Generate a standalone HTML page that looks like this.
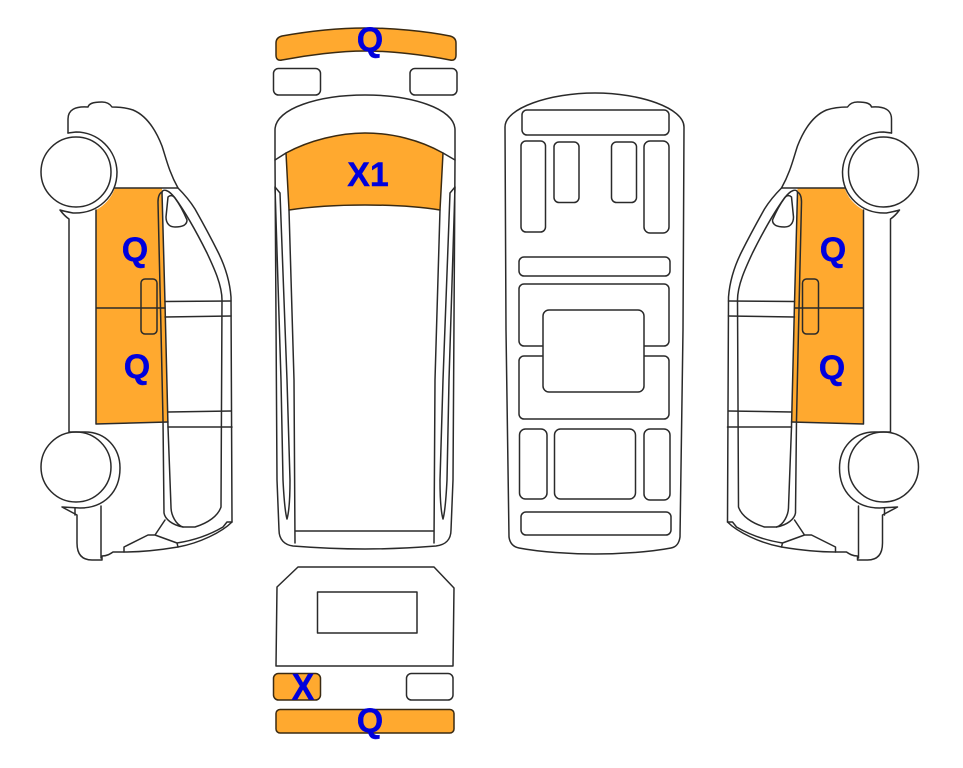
<!DOCTYPE html>
<html>
<head>
<meta charset="utf-8">
<style>
html,body{margin:0;padding:0;background:#fff;}
svg{display:block;}
.l{fill:none;stroke:#2a2a2a;stroke-width:1.5;stroke-linejoin:round;stroke-linecap:round;}
.w{fill:#fff;stroke:#2a2a2a;stroke-width:1.5;stroke-linejoin:round;}
.o{fill:#ffa92f;stroke:#3a2a12;stroke-width:1.5;stroke-linejoin:round;}
text{font-family:"Liberation Sans",Arial,sans-serif;font-weight:bold;font-size:34px;fill:#0000dd;stroke:#0000dd;stroke-width:.4;text-anchor:middle;}
</style>
</head>
<body>
<svg width="963" height="768" viewBox="0 0 963 768" xmlns="http://www.w3.org/2000/svg">
<defs>
<g id="van">
  <!-- orange doors -->
  <path d="M96,424 L96,210 A41,41 0 0 0 115,188 L162,188 L165,303 L168,422 Z" fill="#ffa92f" stroke="none"/>
  <path class="l" d="M96,210 L96,424 L168,422 M96,308 L165,308"/>
  <!-- body upper -->
  <path class="l" d="M68,133 L68,119 C68,110 75,106 88,107 C89,104 92,102 102,102 C107,102 110,104 112,107 C120,107 127,108 133,110 C145,115 155,128 162,146 C166,158 169,172 178,188 L115,188"/>
  <!-- arches -->
  <path class="l" d="M68,133 L76,132 A41,41 0 0 1 117,172 C117,196 98,214 73,213 C68,212 63,211 60,210 C63,214 66,217 69,219 L69,432 L85,432 C106,432 120,448 120,468 C120,492 104,508 80,508 L62,507 L77,515 L77,543 C77,553 81,560 92,560 L102,560 L102,556 C107,556 110,554 113,552 L124,552 C140,552 160,550 178,547 C200,543 222,532 232,522 L231,297 C230,284 226,268 218,252 C212,240 204,225 195,209 C190,201 184,194 178,188"/>
  <path class="l" d="M75,508 L75,515 M101,506 L101,558"/>
  <circle class="l" cx="76" cy="172" r="35"/>
  <circle class="l" cx="76" cy="467" r="35"/>
  <!-- door frame -->
  <path class="l" d="M162,192 C160,193 158,196 158,202 L161,330 L163,420 L164,513 C165,519 172,525 183,527"/>
  <path class="l" d="M162,192 C163,189 168,189 175,198 C186,213 198,235 207,253 C214,268 222,285 222,300 L221,507 C218,516 208,523 195,527 L183,527 C176,525 171,515 171,507 L168,427 L165,303 L162,192"/>
  <path class="l" d="M165,301.5 L231,301 M165,317 L231,316 M168,412 L231,411 M168,427 L232,427"/>
  <path class="l" d="M168,197 C170,195 173,195 175,198 C180,205 184,213 187,220 C187,225 182,227 175,227 C170,227 166,224 166,217 Z"/>
  <rect class="l" x="141" y="279" width="16" height="55" rx="4"/>
  <!-- bottom sill -->
  <path class="l" d="M124,552 L124,547 L148,535 L155,535 L177,543 L178,547 M155,535 L165,520 M177,543 C190,541 206,537 223,527 L227,522 L232,522"/>
</g>
</defs>

<use href="#van"/>
<use href="#van" transform="translate(959.5,0) scale(-1,1)"/>

<!-- top view -->
<path class="o" d="M282,36 C310,31 340,28 365,28 C392,28 425,31 450,36 C454,37 456,39 456,43 L456,55 C456,59 454,61 450,60 C425,55 392,51 365,51 C340,51 308,55 282,60 C278,61 276,59 276,55 L276,43 C276,39 278,37 282,36 Z"/>
<rect class="l" x="273.500" y="68.500" width="47" height="26.500" rx="5"/>
<rect class="l" x="410" y="68.500" width="47" height="26.500" rx="5"/>

<path class="l" d="M275,160 L275,130 C275,108 320,95 365,95 C410,95 455,108 455,130 L455,160 L453,480 L451,530 C451,540 445,545 436,546 C410,548 385,549 365,549 C345,549 318,548 293,546 C285,545 279,540 279,530 L277,480 Z"/>
<path class="o" d="M286,153 C310,140 340,133 365,133 C392,133 420,140 443,153 L440,210 C415,206 390,205 365,205 C340,205 315,206 289,210 Z"/>
<path class="l" d="M275,160 L286,153 M443,153 L455,160"/>
<path class="l" d="M289,210 L294,380 L295,543 M440,210 L435,380 L434,543 M295,531 L434,531"/>
<path class="l" d="M275,187 L280,193 L287,380 L290,480 C290,500 289,512 287,519 C285,512 284,500 283,480 L281,380 L275,187"/>
<path class="l" d="M455,187 L450,193 L443,380 L440,480 C440,500 441,512 443,519 C445,512 446,500 447,480 L449,380 L455,187"/>

<!-- rear view -->
<path class="l" d="M298,567 L434,567 L454,588 L453,666 L276,666 L277,587 Z"/>
<rect class="l" x="317.500" y="592" width="99.500" height="41"/>
<rect class="o" x="273.500" y="673.500" width="47" height="26.500" rx="5"/>
<rect class="l" x="406.500" y="673.500" width="46.500" height="26.500" rx="5"/>
<rect class="o" x="276" y="709.500" width="178" height="23.500" rx="4"/>

<!-- middle view -->
<path class="l" d="M505,127 C505,108 550,93 595,93 C640,93 684,108 684,127 L683,330 L680,537 C679,544 676,547 671,548 C650,552 620,554 595,554 C570,554 540,552 519,548 C514,547 510,544 509,537 L506,330 Z"/>
<rect class="l" x="522" y="110" width="147" height="25" rx="5"/>
<rect class="l" x="521" y="141" width="24.500" height="91" rx="5"/>
<rect class="l" x="554" y="142" width="25" height="60.500" rx="5"/>
<rect class="l" x="611.500" y="142" width="25" height="60.500" rx="5"/>
<rect class="l" x="644" y="141" width="25" height="92" rx="6"/>
<rect class="l" x="519" y="257" width="151" height="19" rx="5"/>
<rect class="l" x="519" y="284" width="150" height="62" rx="5"/>
<rect class="l" x="519" y="356" width="150" height="63" rx="5"/>
<rect class="w" x="543" y="310" width="101" height="82" rx="6"/>
<rect class="l" x="519.500" y="429" width="27.500" height="70" rx="6"/>
<rect class="l" x="554.500" y="429" width="81" height="70" rx="6"/>
<rect class="l" x="644" y="429" width="26" height="71" rx="6"/>
<rect class="l" x="521" y="512" width="150" height="23" rx="5"/>

<!-- labels -->
<text x="135" y="261">Q</text>
<text x="137" y="378">Q</text>
<text x="833" y="261">Q</text>
<text x="832" y="379">Q</text>
<text x="370" y="51">Q</text>
<text x="368" y="186">X1</text>
<text transform="translate(303,699.500) scale(1,1.08)">X</text>
<text x="370" y="732">Q</text>
</svg>
</body>
</html>
